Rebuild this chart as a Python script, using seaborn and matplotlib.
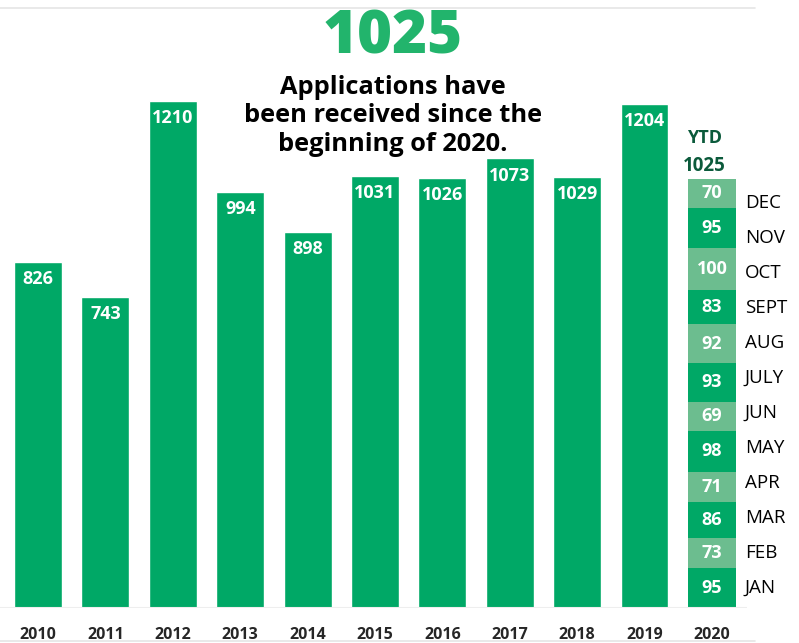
import matplotlib.pyplot as plt
import matplotlib.lines as mlines
import numpy as np
import pandas as pd
import seaborn as sns

# yearly applications
years = ["2010", "2011", "2012", "2013", "2014", "2015", "2016", "2017", "2018", "2019", "2020"]
applications = [826, 743, 1210, 994, 898, 1031, 1026, 1073, 1029, 1204]

# 2020 year to date, bottom (JAN) to top (DEC)
months = ["JAN", "FEB", "MAR", "APR", "MAY", "JUN", "JULY", "AUG", "SEPT", "OCT", "NOV", "DEC"]
month_values = [95, 73, 86, 71, 98, 69, 93, 92, 83, 100, 95, 70]

DARK = "#00a866"
LIGHT = "#6cbd8f"
TITLE_GREEN = "#22b46c"
YTD_GREEN = "#0b5a3b"

sns.set_style("white")
plt.rcParams['font.family'] = ['Open Sans', 'DejaVu Sans']

fig = plt.figure(figsize=(7.99, 6.43), dpi=100)
ax = fig.add_axes([0, 35 / 643, 747 / 799, 600 / 643])

data = pd.DataFrame({"year": years[:-1], "apps": applications})
sns.barplot(data=data, x="year", y="apps", order=years, color=DARK,
            saturation=1, width=0.71, ax=ax)

# stacked 2020 bar
ytd_total = sum(month_values)
bottoms = np.cumsum([0] + month_values[:-1])
x2020 = years.index("2020")
for i, (m, v, b) in enumerate(zip(months, month_values, bottoms)):
    col = DARK if i % 2 == 0 else LIGHT
    ax.bar(x2020, v, bottom=b, width=0.71, color=col, linewidth=0)
    ax.text(x2020, b + v / 2, str(v), ha="center", va="center",
            color="white", fontsize=13, fontweight="bold")
    # month labels are spaced evenly beside the bar
    ax.text(x2020 + 0.49, (i + 0.57) * ytd_total / 12.27, m, ha="left", va="center",
            color="black", fontsize=13.5)

# value labels inside the yearly bars
for i, v in enumerate(applications):
    ax.annotate(str(v), (i, v), xytext=(0, -12.5), textcoords="offset points",
                ha="center", va="center", color="white", fontsize=13, fontweight="bold")

ax.text(x2020 - 0.11, ytd_total + 97, "YTD", ha="center", va="center",
        color=YTD_GREEN, fontsize=13, fontweight="bold")
ax.text(x2020 - 0.11, ytd_total + 31, str(ytd_total), ha="center", va="center",
        color=YTD_GREEN, fontsize=13.5, fontweight="bold")

ax.set_xlim(-0.564, 10.52)
ax.set_ylim(0, 1432)
ax.axhline(0, color="#eeeeee", lw=1.5)
ax.set_xlabel("")
ax.set_ylabel("")
ax.set_yticks([])
ax.tick_params(axis="x", length=0, pad=14, labelsize=11.5)
for lab in ax.get_xticklabels():
    lab.set_fontweight("bold")
sns.despine(ax=ax, left=True, bottom=True)

# header text
fig.text(393 / 799, 1 - 37 / 643, str(ytd_total), ha="center", va="center",
         color=TITLE_GREEN, fontsize=43, fontweight=800)
fig.text(393 / 799, 1 - 116 / 643,
         "Applications have\nbeen received since the\nbeginning of 2020.",
         ha="center", va="center", color="black", fontsize=18.3,
         fontweight="bold", linespacing=1.16)

# thin rules at the top and the bottom
fig.add_artist(mlines.Line2D([0, 755 / 799], [1 - 8 / 643] * 2, color="#e5e5e5", lw=1.2))
fig.add_artist(mlines.Line2D([0, 755 / 799], [2 / 643] * 2, color="#e5e5e5", lw=1.2))

plt.savefig("out.png", dpi=100)
